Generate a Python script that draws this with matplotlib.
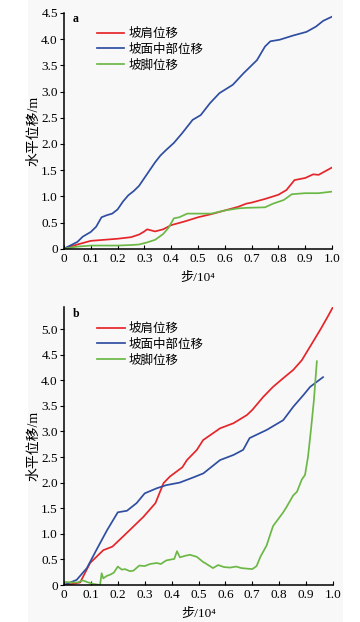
import numpy as np
import matplotlib
matplotlib.use('Agg')
import matplotlib.pyplot as plt
from matplotlib.patches import Rectangle

plt.rcParams['font.family'] = ['Liberation Serif', 'Noto Sans CJK SC', 'DejaVu Sans']

# etiquetas
nombres = ['坡肩位移', '坡面中部位移', '坡脚位移']
colores = ['#e5252a', '#2f4ea1', '#6cb846']

# panel a
a_hombro_x = [0, 0.05, 0.1, 0.15, 0.2, 0.25, 0.28, 0.3, 0.31, 0.34, 0.37, 0.4, 0.45, 0.5,
              0.55, 0.6, 0.65, 0.68, 0.7, 0.75, 0.8, 0.83, 0.86, 0.9, 0.93, 0.95, 1.0]
a_hombro_y = [0, 0.08, 0.15, 0.17, 0.19, 0.22, 0.27, 0.33, 0.37, 0.33, 0.37, 0.45, 0.52, 0.6,
              0.66, 0.73, 0.8, 0.86, 0.88, 0.95, 1.03, 1.12, 1.31, 1.35, 1.42, 1.41, 1.55]
a_medio_x = [0, 0.05, 0.07, 0.1, 0.12, 0.14, 0.16, 0.18, 0.2, 0.22, 0.24, 0.26, 0.28, 0.3,
             0.32, 0.34, 0.36, 0.38, 0.41, 0.44, 0.48, 0.51, 0.545, 0.58, 0.63, 0.67, 0.72,
             0.75, 0.77, 0.805, 0.855, 0.905, 0.94, 0.967, 1.0]
a_medio_y = [0, 0.13, 0.23, 0.32, 0.42, 0.6, 0.64, 0.67, 0.75, 0.9, 1.02, 1.1, 1.2, 1.35,
             1.5, 1.65, 1.78, 1.88, 2.02, 2.2, 2.46, 2.55, 2.78, 2.97, 3.13, 3.35, 3.6,
             3.86, 3.96, 3.99, 4.07, 4.14, 4.24, 4.35, 4.43]
a_pie_x = [0, 0.05, 0.1, 0.2, 0.25, 0.28, 0.31, 0.34, 0.37, 0.39, 0.41, 0.43, 0.46, 0.5,
           0.55, 0.6, 0.65, 0.68, 0.75, 0.78, 0.82, 0.85, 0.9, 0.95, 1.0]
a_pie_y = [0, 0.04, 0.06, 0.06, 0.07, 0.08, 0.12, 0.17, 0.28, 0.4, 0.58, 0.6, 0.67, 0.67,
           0.67, 0.73, 0.77, 0.78, 0.79, 0.86, 0.93, 1.04, 1.06, 1.06, 1.09]

# panel b
b_hombro_x = [0, 0.03, 0.06, 0.097, 0.146, 0.18, 0.23, 0.295, 0.34, 0.37, 0.394, 0.44, 0.457,
              0.494, 0.517, 0.58, 0.63, 0.68, 0.70, 0.74, 0.777, 0.815, 0.852, 0.884, 0.914,
              0.952, 0.977, 1.0]
b_hombro_y = [0, 0.02, 0.05, 0.43, 0.68, 0.75, 1.0, 1.33, 1.6, 1.99, 2.12, 2.3, 2.44,
              2.64, 2.83, 3.06, 3.16, 3.32, 3.42, 3.67, 3.87, 4.04, 4.2, 4.39, 4.65,
              4.98, 5.21, 5.43]
b_medio_x = [0, 0.047, 0.085, 0.12, 0.16, 0.2, 0.234, 0.27, 0.3, 0.345, 0.38, 0.43, 0.48,
             0.518, 0.58, 0.63, 0.666, 0.69, 0.754, 0.815, 0.852, 0.89, 0.915, 0.963]
b_medio_y = [0, 0.1, 0.33, 0.68, 1.07, 1.42, 1.45, 1.6, 1.79, 1.89, 1.95, 2.0, 2.1,
             2.18, 2.44, 2.54, 2.64, 2.87, 3.03, 3.22, 3.48, 3.71, 3.87, 4.06]
b_pie_x = [0, 0.03, 0.05, 0.07, 0.09, 0.11, 0.134, 0.14, 0.146, 0.16, 0.171, 0.185, 0.2,
           0.215, 0.227, 0.245, 0.258, 0.28, 0.3, 0.32, 0.345, 0.36, 0.38, 0.41, 0.42,
           0.431, 0.45, 0.468, 0.494, 0.517, 0.524, 0.554, 0.573, 0.595, 0.617, 0.64,
           0.66, 0.68, 0.7, 0.716, 0.73, 0.753, 0.777, 0.815, 0.828, 0.852, 0.866,
           0.884, 0.896, 0.907, 0.918, 0.929, 0.94]
b_pie_y = [0.06, 0.05, 0.05, 0.09, 0.05, 0.02, 0.0, 0.23, 0.13, 0.18, 0.2, 0.24, 0.36,
           0.3, 0.31, 0.27, 0.28, 0.38, 0.37, 0.41, 0.43, 0.41, 0.48, 0.51, 0.66,
           0.54, 0.57, 0.59, 0.55, 0.45, 0.43, 0.33, 0.39, 0.35, 0.34, 0.36,
           0.33, 0.32, 0.31, 0.37, 0.55, 0.77, 1.15, 1.42, 1.53, 1.75, 1.82,
           2.06, 2.15, 2.5, 3.03, 3.61, 4.37]

fig = plt.figure(figsize=(3.6, 6.22), dpi=100)
fig.patches.append(Rectangle((28 / 360, 0), 315 / 360, 1, transform=fig.transFigure,
                             facecolor='#f8f8f8', edgecolor='none', zorder=-10))

ax_a = fig.add_axes([64 / 360, 1 - 248.7 / 622, 268 / 360, 235.7 / 622])
ax_b = fig.add_axes([64 / 360, 1 - 585 / 622, 269 / 360, 278 / 622])

paneles = [
    (ax_a, 'a', [(a_hombro_x, a_hombro_y), (a_medio_x, a_medio_y), (a_pie_x, a_pie_y)],
     4.5, np.arange(0, 4.51, 0.5), 0.937),
    (ax_b, 'b', [(b_hombro_x, b_hombro_y), (b_medio_x, b_medio_y), (b_pie_x, b_pie_y)],
     5.43, np.arange(0, 5.01, 0.5), 0.943),
]

for ax, letra, series, ytop, yticks, ley_y in paneles:
    ax.patch.set_alpha(0)
    for (xs, ys), nombre, c in zip(series, nombres, colores):
        ax.plot(xs, ys, color=c, lw=1.25, label=nombre)
    ax.set_xlim(0, 1.0)
    ax.set_ylim(0, ytop)
    ax.set_xticks(np.arange(0, 1.01, 0.1))
    ax.set_xticklabels(['0'] + ['%.1f' % v for v in np.arange(0.1, 1.01, 0.1)])
    ax.set_yticks(yticks)
    ax.set_yticklabels(['0'] + ['%.1f' % v for v in yticks[1:]])
    ax.spines['top'].set_visible(False)
    ax.spines['right'].set_visible(False)
    ax.spines['left'].set_linewidth(1.1)
    ax.spines['bottom'].set_linewidth(1.1)
    ax.tick_params(axis='x', direction='in', length=3, labelsize=9.5, pad=3)
    ax.tick_params(axis='y', direction='out', length=3, labelsize=9.5, pad=1.5)
    ax.set_xlabel('步/10⁴', fontsize=9.5, labelpad=5)
    ax.set_ylabel('水平位移/m', fontsize=10, labelpad=0.5)
    ax.text(0.033, 0.998, letra, transform=ax.transAxes, fontsize=8.5, fontweight='bold',
            va='top', ha='left')
    ax.legend(loc='upper left', bbox_to_anchor=(0.123, ley_y), frameon=False,
              borderpad=0, borderaxespad=0,
              fontsize=9, handlelength=2.2, handletextpad=0.35, labelspacing=0.3)

fig.savefig('out.png', dpi=100)
